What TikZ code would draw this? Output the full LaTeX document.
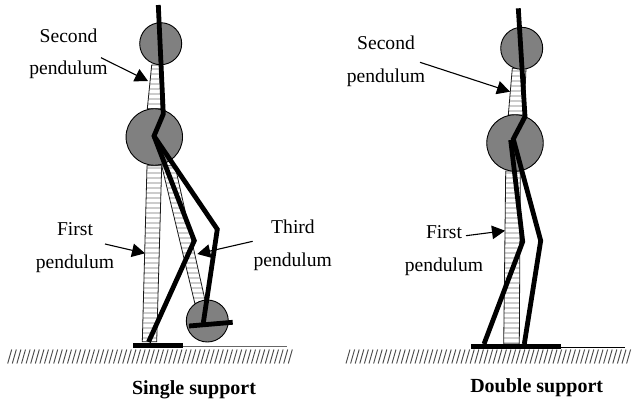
\documentclass[tikz,border=0pt]{standalone}
\usepackage{fontspec}
\setmainfont{Liberation Serif}
\usetikzlibrary{arrows.meta}
\definecolor{ballgray}{gray}{0.5}
\definecolor{stripegray}{gray}{0.8}
\tikzset{
  ball/.style={circle,draw=black,line width=0.9pt,fill=ballgray,minimum size=42pt,inner sep=0pt,outer sep=0pt},
  hipball/.style={ball,minimum size=56.5pt},
  limb/.style={line width=4.8pt,line join=miter,miter limit=3},
  footbar/.style={line width=5pt},
  pend/.style={draw=black!90,line width=0.8pt},
  stripe/.style={stripegray,line width=1.8pt},
  label/.style={inner sep=0pt,font=\fontsize{19.6}{20}\selectfont},
  caption/.style={inner sep=0pt,font=\fontsize{20}{20}\selectfont\bfseries},
  pointer/.style={line width=1.1pt,-{Triangle[length=13pt,width=13.5pt]}},
  hatchline/.style={line width=0.95pt,black!70}
}
\newcommand{\stripedpoly}[5]{%
  \begin{scope}
    \clip #1;
    \foreach \yy in {#2,#3,...,#4} \draw[stripe] (#5-40,\yy) -- (#5+60,\yy);
  \end{scope}
  \draw[pend] #1;
}
\begin{document}
\begin{tikzpicture}[x=1pt,y=-1pt]
\useasboundingbox (0,0) rectangle (632,404);
% hatching
\foreach \xx in {0,...,61} \draw[hatchline] (11.7+4.6*\xx,349.5) -- (7.7+4.6*\xx,363.5);
\foreach \xx in {0,...,61} \draw[hatchline] (350+4.6*\xx,349.5) -- (346+4.6*\xx,363.5);
% ---------- left figure
\coordinate (gl1) at (183,346.7); \coordinate (gl2) at (286.7,346.7);
\draw[line width=1.1pt,black!60] (gl1) -- (gl2);
\stripedpoly{(151.7,65) -- (160,65) -- (161,108.7) -- (147.3,108.7) -- cycle}{69}{74}{108}{154}
\stripedpoly{(147,165.7) -- (161.7,165.7) -- (156.7,341.7) -- (142.3,341.7) -- cycle}{168}{173}{340}{150}
\stripedpoly{(161.7,165.7) -- (175,165.7) -- (205,300) -- (195,304) -- cycle}{168}{173}{304}{185}
\node[hipball] (hipL) at (154.3,137) {};
\node[ball] (headL) at (160.7,43.7) {};
\node[ball] (ballL) at (207.3,321) {};
\coordinate (topL) at (158.3,5);
\coordinate (waistL) at (163.3,114);
\coordinate (pelvisL) at (154,136);
\coordinate (kneeAL) at (194.3,240.7);
\coordinate (ankleAL) at (148.5,342);
\coordinate (kneeBL) at (217.3,229.3);
\coordinate (ankleBL) at (203.3,323);
\draw[limb] (topL) -- (waistL) -- (pelvisL) -- (kneeAL) -- (ankleAL);
\draw[limb] (pelvisL) -- (kneeBL) -- (ankleBL);
\coordinate (fbA) at (189,326); \coordinate (fbB) at (232.7,322.3);
\draw[limb] (fbA) -- (fbB);
\coordinate (fsA) at (133.3,345.3); \coordinate (fsB) at (183.3,345.3);
\draw[footbar] (fsA) -- (fsB);
% labels left
\node[label] (t1) at (68.5,36) {Second};
\node[label] (t2) at (68.5,70) {pendulum};
\node[label] (t3) at (75,229) {First};
\node[label] (t4) at (75,263.5) {pendulum};
\node[label] (t5) at (293,227) {Third};
\node[label] (t6) at (292.7,261.7) {pendulum};
\node[caption] (c1) at (194,390) {Single support};
\coordinate (a1s) at (101,57.7); \coordinate (a1e) at (148,81);
\coordinate (a2s) at (105,244); \coordinate (a2e) at (145,253.3);
\coordinate (a3s) at (252.7,241.3); \coordinate (a3e) at (197.3,254);
\draw[pointer] (a1s) -- (a1e);
\draw[pointer] (a2s) -- (a2e);
\draw[pointer] (a3s) -- (a3e);
% ---------- right figure
\coordinate (gr1) at (560,347); \coordinate (gr2) at (625,347);
\draw[line width=1pt] (gr1) -- (gr2);
\stripedpoly{(512.3,68.3) -- (526,68.3) -- (524,115) -- (508.3,115) -- cycle}{71}{76}{115}{515}
\stripedpoly{(505.7,171) -- (520.3,171) -- (519.3,344) -- (503.7,344) -- cycle}{173}{178}{343}{510}
\node[hipball] (hipR) at (515,143) {};
\node[ball] (headR) at (521.7,48.3) {};
\coordinate (topR) at (518.3,8.3);
\coordinate (waistR) at (525,116.7);
\coordinate (pelvisR) at (513.3,139);
\coordinate (pelvisRa) at (510.7,140);
\coordinate (kneeAR) at (522.7,241.7);
\coordinate (ankleAR) at (484,344);
\coordinate (kneeBR) at (540.7,240.7);
\coordinate (ankleBR) at (524.3,344);
\draw[limb] (topR) -- (waistR) -- (pelvisR) -- (kneeBR) -- (ankleBR);
\draw[limb] (pelvisRa) -- (kneeAR) -- (ankleAR);
\coordinate (frA) at (471,346); \coordinate (frB) at (560.7,346);
\draw[footbar] (frA) -- (frB);
\node[label] (t7) at (386,43) {Second};
\node[label] (t8) at (386,78) {pendulum};
\node[label] (t9) at (444,231.7) {First};
\node[label] (t10) at (444,266.7) {pendulum};
\node[caption] (c2) at (536.7,387.7) {Double support};
\coordinate (a4s) at (420,62.3); \coordinate (a4e) at (510,91.7);
\coordinate (a5s) at (466,235.7); \coordinate (a5e) at (505,230.7);
\draw[pointer] (a4s) -- (a4e);
\draw[pointer] (a5s) -- (a5e);
\end{tikzpicture}
\end{document}
